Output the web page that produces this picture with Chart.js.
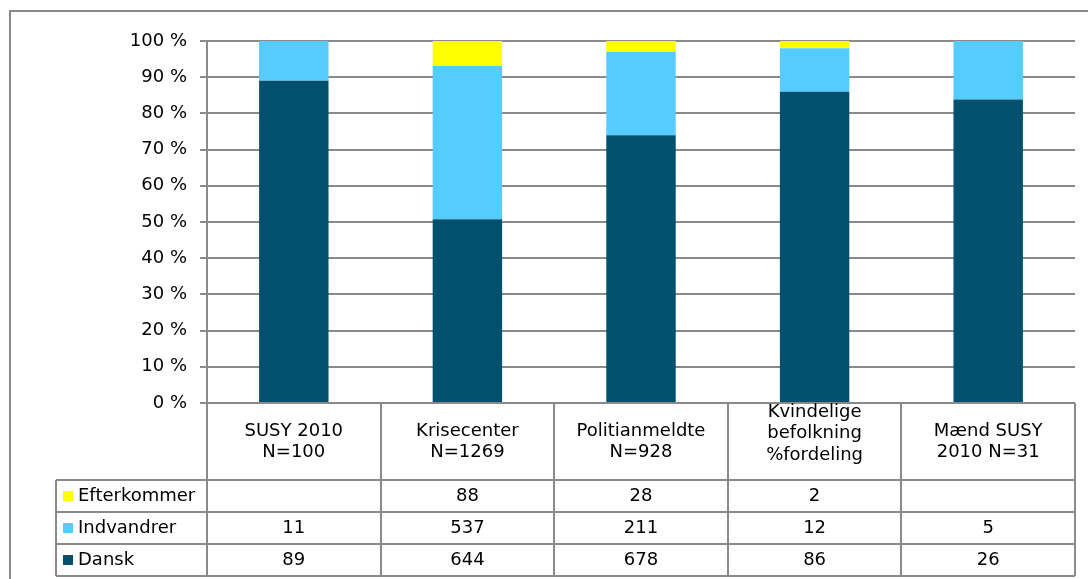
<!DOCTYPE html>
<html lang="da">
<head>
  <meta charset="UTF-8" />
  <title>Dansk / Indvandrer / Efterkommer</title>
  <script src="https://cdn.jsdelivr.net/npm/chart.js"></script>
  <style>
    html, body { margin: 0; padding: 0; background: #fff; }
    #wrap { position: relative; width: 1088px; height: 579px; }
  </style>
</head>
<body>
  <div id="wrap"><canvas id="chart" width="1088" height="579"></canvas></div>
  <script>
    // data
    const categories = [
      ["SUSY 2010", "N=100"],
      ["Krisecenter", "N=1269"],
      ["Politianmeldte", "N=928"],
      ["Kvindelige", "befolkning", "%fordeling"],
      ["Mænd SUSY", "2010 N=31"]
    ];
    const dansk = [89, 644, 678, 86, 26];
    const indvandrer = [11, 537, 211, 12, 5];
    const efterkommer = [null, 88, 28, 2, null];
    const seriesNames = ["Dansk", "Indvandrer", "Efterkommer"];
    const seriesColors = ["#00506e", "#55ccff", "#ffff00"];
    const yTicks = [0, 10, 20, 30, 40, 50, 60, 70, 80, 90, 100];

    const FONT = "DejaVu Sans, Verdana, sans-serif";
    const LINE = "#8a8a8a";

    // 100 % stacked: share of each group in its column
    const totals = dansk.map((d, i) => d + indvandrer[i] + (efterkommer[i] || 0));
    const pct = arr => arr.map((v, i) => v == null ? null : v / totals[i] * 100);

    const rowsTopDown = [
      { name: "Efterkommer", values: efterkommer, color: seriesColors[2] },
      { name: "Indvandrer", values: indvandrer, color: seriesColors[1] },
      { name: "Dansk", values: dansk, color: seriesColors[0] }
    ];

    const tablePlugin = {
      id: "dataTable",
      beforeDraw(chart) {
        const ctx = chart.ctx;
        ctx.save();
        ctx.strokeStyle = LINE;
        ctx.lineWidth = 2;
        ctx.strokeRect(10, 11, 1200, 700);
        ctx.restore();
      },
      afterDraw(chart) {
        const ctx = chart.ctx;
        const area = chart.chartArea;
        const x = chart.scales.x;
        const n = categories.length;
        const colW = (area.right - area.left) / n;
        const headTop = area.bottom;
        const headBottom = 480;
        const rowH = 32;
        const legendLeft = 56;
        const tableBottom = headBottom + rowH * rowsTopDown.length;

        ctx.save();
        ctx.strokeStyle = LINE;
        ctx.lineWidth = 2;
        ctx.beginPath();
        // column separators
        for (let i = 0; i <= n; i++) {
          const cx = Math.round(area.left + colW * i);
          ctx.moveTo(cx, headTop);
          ctx.lineTo(cx, tableBottom);
        }
        ctx.moveTo(area.right, headTop);
        ctx.lineTo(area.left, headTop);
        // row lines
        for (let r = 0; r <= rowsTopDown.length; r++) {
          const y = headBottom + rowH * r;
          ctx.moveTo(legendLeft, y);
          ctx.lineTo(area.right, y);
        }
        ctx.moveTo(legendLeft, headBottom);
        ctx.lineTo(legendLeft, tableBottom);
        ctx.stroke();

        ctx.fillStyle = "#000";
        ctx.font = "18px " + FONT;
        ctx.textAlign = "center";
        ctx.textBaseline = "middle";

        // header labels
        categories.forEach((lines, i) => {
          const cx = x.getPixelForValue(i);
          const start = lines.length > 2 ? 412 : 431;
          lines.forEach((t, k) => ctx.fillText(t, cx, start + k * 21.5));
        });

        // rows
        rowsTopDown.forEach((row, r) => {
          const cy = headBottom + rowH * r + rowH / 2;
          ctx.fillStyle = row.color;
          ctx.fillRect(63, Math.round(cy - 5), 10, 10);
          ctx.fillStyle = "#000";
          ctx.textAlign = "left";
          ctx.fillText(row.name, 78, cy);
          ctx.textAlign = "center";
          row.values.forEach((v, i) => {
            if (v != null) ctx.fillText(String(v), x.getPixelForValue(i), cy);
          });
        });
        ctx.restore();
      }
    };

    new Chart(document.getElementById("chart"), {
      type: "bar",
      data: {
        labels: categories,
        datasets: [
          { label: seriesNames[0], data: pct(dansk), backgroundColor: seriesColors[0] },
          { label: seriesNames[1], data: pct(indvandrer), backgroundColor: seriesColors[1] },
          { label: seriesNames[2], data: pct(efterkommer), backgroundColor: seriesColors[2] }
        ]
      },
      options: {
        responsive: false,
        animation: false,
        layout: { padding: { left: 0, top: 41, right: 13, bottom: 176 } },
        datasets: { bar: { categoryPercentage: 1, barPercentage: 0.4, borderWidth: 0 } },
        plugins: {
          legend: { display: false },
          tooltip: { enabled: false }
        },
        scales: {
          x: {
            stacked: true,
            display: false
          },
          y: {
            stacked: true,
            min: 0,
            max: 100,
            afterFit(scale) { scale.width = 207; },
            afterBuildTicks(scale) { scale.ticks = yTicks.map(v => ({ value: v })); },
            grid: { color: LINE, lineWidth: 2, tickLength: 7 },
            border: { color: LINE, width: 2 },
            ticks: {
              padding: 13,
              color: "#000",
              font: { family: FONT, size: 18 },
              callback: v => v + " %"
            }
          }
        }
      },
      plugins: [tablePlugin]
    });
  </script>
</body>
</html>
